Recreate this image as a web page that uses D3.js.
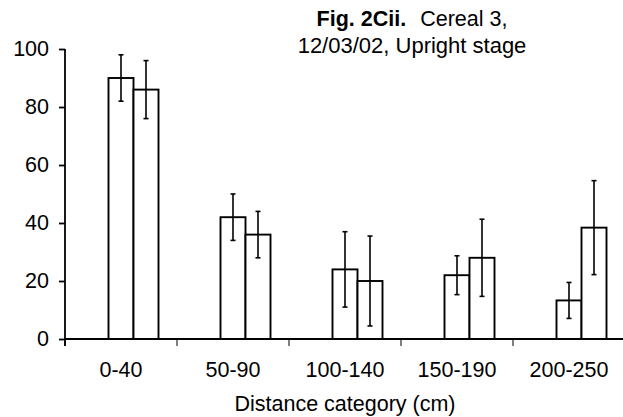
<!DOCTYPE html>
<html>
<head>
<meta charset="utf-8">
<script src="https://cdn.jsdelivr.net/npm/d3@7"></script>
<style>
  body { margin: 0; background: #fff; }
  svg { display: block; font-family: "Liberation Sans", Arial, sans-serif; }
  text { white-space: pre; }
</style>
</head>
<body>
<svg id="chart" width="623" height="417"></svg>
<script>
// data
const categories = ['0-40', '50-90', '100-140', '150-190', '200-250']
const seriesA = [90, 42, 24, 22, 13.3]
const errA = [8, 8, 13, 6.7, 6.2]
const seriesB = [86, 36, 20, 28, 38.4]
const errB = [10, 8, 15.5, 13.3, 16.2]
const yTicks = [0, 20, 40, 60, 80, 100]

const svg = d3.select('#chart')

const x = d3.scaleBand().domain(categories).range([65, 625]).padding(0)
// first slot is an empty series in the original chart, so bars sit right of centre
const sub = d3.scaleBand().domain(['blank', 'a', 'b'])
    .range([0, x.bandwidth()]).paddingInner(0).paddingOuter(0.74)
const y = d3.scaleLinear().domain([0, 100]).range([339, 49])

const rows = categories.map((c, i) => [
    {cat: c, key: 'a', v: seriesA[i], e: errA[i]},
    {cat: c, key: 'b', v: seriesB[i], e: errB[i]}
]).flat()

// bars
svg.append('g').selectAll('rect')
    .data(rows)
    .enter()
    .append('rect')
    .attr('x', d => x(d.cat) + sub(d.key))
    .attr('y', d => y(d.v))
    .attr('width', sub.bandwidth())
    .attr('height', d => y(0) - y(d.v))
    .style('fill', 'white')
    .style('stroke', 'black')
    .style('stroke-width', '1.9px')

// error bars
const eb = svg.append('g').selectAll('g')
    .data(rows)
    .enter()
    .append('g')
    .attr('transform', d => `translate(${x(d.cat) + sub(d.key) + sub.bandwidth() / 2},0)`)
    .style('stroke', 'black')
    .style('stroke-width', '1.6px')
eb.append('line')
    .attr('y1', d => y(d.v + d.e)).attr('y2', d => y(d.v - d.e))
eb.append('line')
    .attr('x1', -2.5).attr('x2', 2.5)
    .attr('y1', d => y(d.v + d.e)).attr('y2', d => y(d.v + d.e))
eb.append('line')
    .attr('x1', -2.5).attr('x2', 2.5)
    .attr('y1', d => y(d.v - d.e)).attr('y2', d => y(d.v - d.e))

// y axis
const yAxis = svg.append('g')
    .attr('transform', 'translate(65,0)')
    .call(d3.axisLeft(y).tickValues(yTicks).tickSize(6).tickPadding(10).tickSizeOuter(0))
yAxis.select('.domain').attr('d', `M0,${y(100)}V${y(0) + 7}`)

// x axis, ticks on the category boundaries
const xAxis = svg.append('g')
    .attr('transform', `translate(0,${y(0)})`)
    .call(d3.axisBottom(x).tickSize(0).tickPadding(23))
xAxis.select('.domain').attr('d', 'M65,0H623')
xAxis.selectAll('.bound')
    .data(categories)
    .enter()
    .append('line')
    .attr('x1', d => x(d)).attr('x2', d => x(d))
    .attr('y1', 0).attr('y2', 7)
    .attr('stroke', 'black')

svg.selectAll('.domain, .tick line').attr('stroke', 'black').attr('stroke-width', 1.8)
svg.selectAll('.tick text')
    .attr('fill', 'black')
    .style('font-size', '21.5px')
    .style('font-family', '"Liberation Sans", Arial, sans-serif')

// axis title
svg.append('text')
    .attr('x', 345).attr('y', 411)
    .attr('text-anchor', 'middle')
    .style('font-size', '21.5px')
    .text('Distance category (cm)')

// title
const title = svg.append('text')
    .attr('x', 412).attr('y', 26)
    .attr('text-anchor', 'middle')
    .style('font-size', '21.5px')
title.append('tspan').style('font-weight', 'bold').text('Fig. 2Cii.')
title.append('tspan').attr('dx', 8).text(' Cereal 3,')
svg.append('text')
    .attr('x', 412).attr('y', 53)
    .attr('text-anchor', 'middle')
    .style('font-size', '22px')
    .text('12/03/02, Upright stage')
</script>
</body>
</html>
